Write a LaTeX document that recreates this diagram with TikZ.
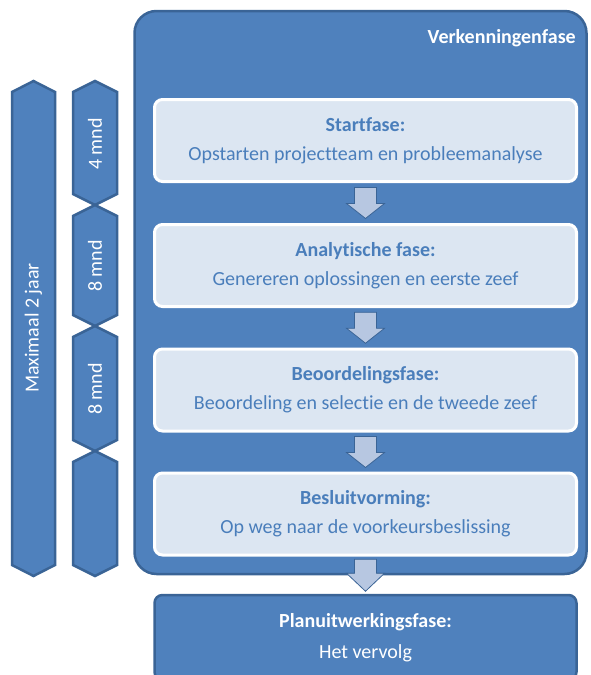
\documentclass[tikz,border=0pt]{standalone}
\usepackage{fontspec}
\setmainfont[Ligatures={NoCommon}]{Carlito}
\usetikzlibrary{calc}
\definecolor{mainblue}{HTML}{4F81BD}
\definecolor{darkblue}{HTML}{3A6496}
\definecolor{lightfill}{HTML}{DCE6F2}
\definecolor{textblue}{HTML}{4A7EBB}
\definecolor{arrowfill}{HTML}{B7C7E1}
\begin{document}
\begin{tikzpicture}[x=1pt,y=-1pt,
  chev/.style={fill=mainblue, draw=darkblue, line width=2.5pt, line join=miter},
  chevtext/.style={text=white, rotate=90, font=\fontsize{20}{24}\selectfont, inner sep=0pt},
  bigbox/.style={rectangle, rounded corners=22pt, fill=mainblue, draw=darkblue, line width=2.5pt, minimum width=452pt, minimum height=563pt, inner sep=0pt},
  phase/.style={rectangle, rounded corners=8pt, fill=lightfill, draw=white, line width=3pt, minimum width=422pt, minimum height=82pt, text=textblue, align=center, font=\fontsize{20}{29}\selectfont, inner sep=0pt},
  nextphase/.style={rectangle, rounded corners=8pt, fill=mainblue, draw=darkblue, line width=2.5pt, minimum width=422pt, minimum height=85pt, text=white, align=center, font=\fontsize{20}{31}\selectfont, inner sep=0pt},
  barrow/.style={fill=arrowfill, draw=darkblue, line width=0.8pt, line join=miter},
  titletext/.style={text=white, font=\fontsize{20}{24}\selectfont\bfseries, inner sep=0pt}
]
\useasboundingbox (0,0) rectangle (590,675);
\clip (0,0) rectangle (590,675);

% left chevron column
\draw[chev] (12,92) -- (33.5,81) -- (55,92) -- (55,565) -- (33.5,576) -- (12,565) -- cycle;
\node[chevtext] (max) at (33.5,328) {Maximaal 2 jaar};

% second chevron column
\draw[chev] (73,92) -- (95,81) -- (117,92) -- (117,194) -- (95,205) -- (73,194) -- cycle;
\draw[chev] (73,216) -- (95,205) -- (117,216) -- (117,315) -- (95,326) -- (73,315) -- cycle;
\draw[chev] (73,337) -- (95,326) -- (117,337) -- (117,440) -- (95,451) -- (73,440) -- cycle;
\draw[chev] (73,462) -- (95,451) -- (117,462) -- (117,565) -- (95,576) -- (73,565) -- cycle;
\node[chevtext] (m1) at (95,144) {4 mnd};
\node[chevtext] (m2) at (95,266) {8 mnd};
\node[chevtext] (m3) at (95,389) {8 mnd};

% big box
\node[bigbox] (vk) at (360.5,292.5) {};
\node[titletext, anchor=base east] (vkt) at (576,43) {Verkenningenfase};

% phase boxes
\node[phase] (b1) at (365.5,140.5) {\textbf{Startfase:}\\Opstarten projectteam en probleemanalyse};
\node[phase] (b2) at (365.5,265.5) {\textbf{Analytische fase:}\\Genereren oplossingen en eerste zeef};
\node[phase] (b3) at (365.5,390) {\textbf{Beoordelingsfase:}\\Beoordeling en selectie en de tweede zeef};
\node[phase] (b4) at (365.5,514) {\textbf{Besluitvorming:}\\Op weg naar de voorkeursbeslissing};

% next phase
\node[nextphase] (pl) at (365.5,637.5) {\textbf{Planuitwerkingsfase:}\\Het vervolg};

% block arrows
\foreach \a/\b in {b1/b2, b2/b3, b3/b4}{
  \draw[barrow, shift={($(\a.south)!0.5!(\b.north)$)}]
    (-11,-15.5) -- (11,-15.5) -- (11,0.5) -- (19,0.5) -- (0,15.5) -- (-19,0.5) -- (-11,0.5) -- cycle;
}
\draw[barrow, shift={(b4.south |- vk.south)}]
    (-11,-16) -- (11,-16) -- (11,-2) -- (19,-2) -- (0,16) -- (-19,-2) -- (-11,-2) -- cycle;
\end{tikzpicture}
\end{document}
